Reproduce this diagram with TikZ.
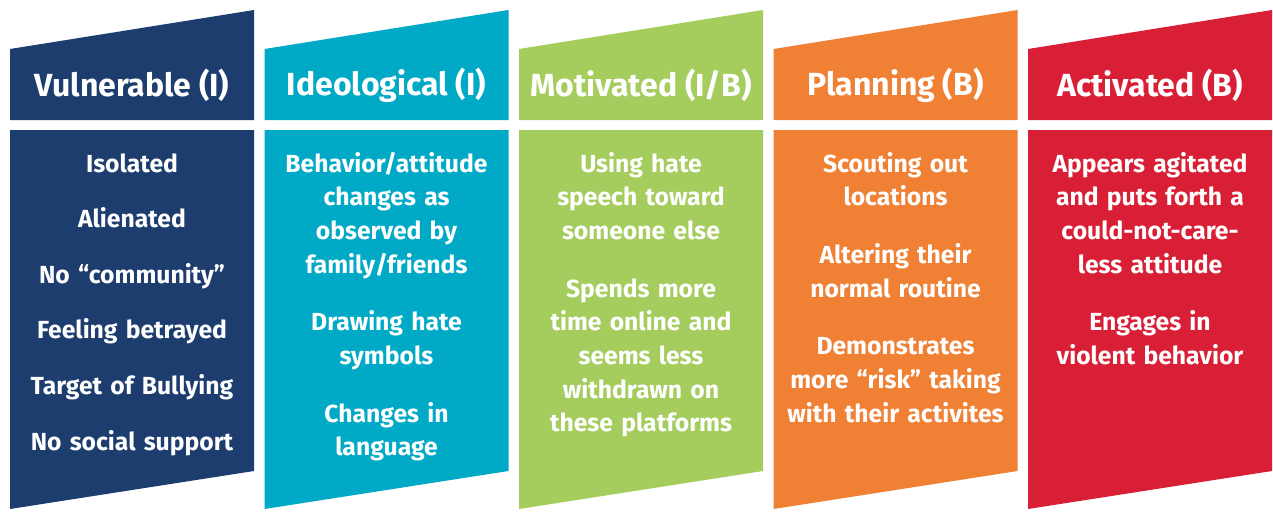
\documentclass[tikz,border=0pt]{standalone}
\usepackage{fontspec}
\setmainfont{Fira Sans}
\usepackage{tikz}
\usetikzlibrary{positioning}
\definecolor{vnavy}{RGB}{29,61,110}
\definecolor{vteal}{RGB}{0,170,198}
\definecolor{vgreen}{RGB}{164,205,94}
\definecolor{vorange}{RGB}{240,128,52}
\definecolor{vred}{RGB}{217,31,54}
\tikzstyle{header} = [text=white, inner sep=0pt, font=\fontsize{32}{38}\selectfont\bfseries]
\tikzstyle{items} = [text=white, inner sep=0pt, anchor=base, align=center, text width=240pt, font=\fontsize{24.7}{33.7}\selectfont\bfseries]

\begin{document}
\begin{tikzpicture}[x=1pt, y=-1pt]
\useasboundingbox (0,0) rectangle (1273,515);
% Slanted columns
\foreach \i/\col in {0/vnavy,1/vteal,2/vgreen,3/vorange,4/vred} {
  \pgfmathsetmacro{\L}{10+254.5*\i}
  \pgfmathsetmacro{\R}{\L+244}
  \fill[\col] (\L,49) -- (\R,10) -- (\R,120) -- (\L,120) -- cycle;
  \fill[\col] (\L,130) -- (\R,130) -- (\R,471) -- (\L,509) -- cycle;
}

% Headers
\node[header] (hvul) at (132,85) {Vulnerable (I)};
\node[header] (hideo) at (386.5,85) {Ideological (I)};
\node[header] (hmot) at (641,85) {Motivated (I/B)};
\node[header] (hplan) at (895.5,85) {Planning (B)};
\node[header] (hact) at (1150,85) {Activated (B)};

% Signs
\node[items] (bvul) at (132,172) {Isolated\\[21.9pt] Alienated\\[21.9pt] No ``community''\\[21.9pt]
  Feeling betrayed\\[21.9pt] Target of Bullying\\[21.9pt] No social support};
\node[items] (bideo) at (386.5,172) {Behavior/attitude\\ changes as\\ observed by\\ family/friends\\[24pt]
  Drawing hate\\ symbols\\[24pt] Changes in\\ language};
\node[items] (bmot) at (641,172) {Using hate\\ speech toward\\ someone else\\[24pt]
  Spends more\\ time online and\\ seems less\\ withdrawn on\\ these platforms};
\node[items] (bplan) at (895.5,172) {Scouting out\\ locations\\[24pt] Altering their\\ normal routine\\[24pt]
  Demonstrates\\ more ``risk'' taking\\ with their activites};
\node[items] (bact) at (1150,172) {Appears agitated\\ and puts forth a\\ could-not-care-\\ less attitude\\[24pt]
  Engages in\\ violent behavior};
\end{tikzpicture}
\end{document}
